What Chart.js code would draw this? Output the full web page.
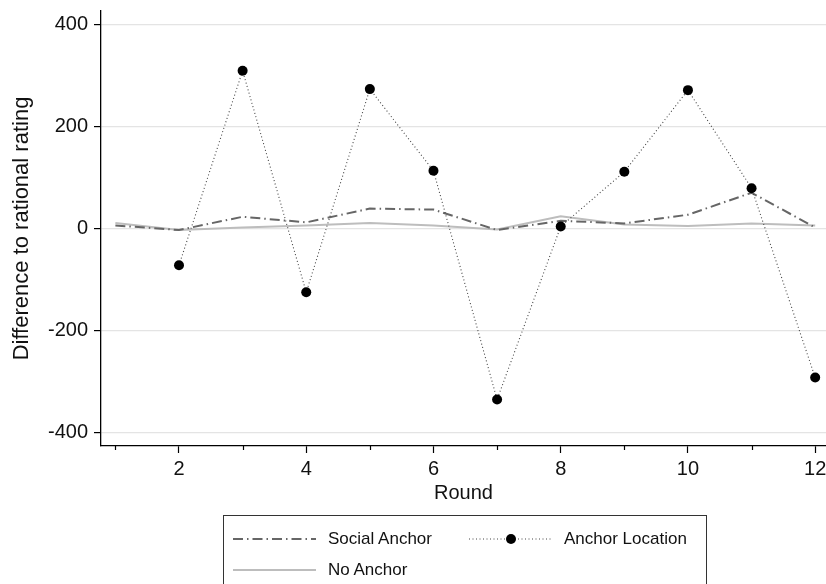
<!DOCTYPE html>
<html>
<head>
<meta charset="utf-8">
<script src="https://cdn.jsdelivr.net/npm/chart.js@4/dist/chart.umd.min.js"></script>
<style>
  html, body { margin: 0; padding: 0; background: #fff; }
  #wrap { position: relative; width: 826px; height: 584px; overflow: hidden; font-family: "Liberation Sans", Arial, Helvetica, sans-serif; }
  #c { position: absolute; left: 0; top: 0; }
  #legend { position: absolute; left: 223px; top: 515px; width: 484px; height: 90px; border: 1px solid #333; box-sizing: border-box; }
  .item { position: absolute; display: flex; align-items: center; font-size: 17px; color: #111; height: 24px; }
  .item svg { display: block; margin-right: 12px; }
</style>
</head>
<body>
<div id="wrap">
  <canvas id="c" width="826" height="584"></canvas>
  <div id="legend">
    <div class="item" style="left:9px; top:11px;">
      <svg width="83" height="10"><line x1="0" y1="5" x2="83" y2="5" stroke="#666" stroke-width="2" stroke-dasharray="10,4,1.5,4"/></svg>
      <span>Social Anchor</span>
    </div>
    <div class="item" style="left:245px; top:11px;">
      <svg width="83" height="12"><line x1="0" y1="6" x2="83" y2="6" stroke="#444" stroke-width="1" stroke-dasharray="1,2.5"/><circle cx="42" cy="6" r="5" fill="#000"/></svg>
      <span>Anchor Location</span>
    </div>
    <div class="item" style="left:9px; top:42px;">
      <svg width="83" height="10"><line x1="0" y1="5" x2="83" y2="5" stroke="#bdbdbd" stroke-width="2"/></svg>
      <span>No Anchor</span>
    </div>
  </div>
</div>
<script>
const rounds = [1, 2, 3, 4, 5, 6, 7, 8, 9, 10, 11, 12];
const socialAnchor = [6, -3, 23, 12, 39, 37, -3, 15, 10, 27, 70, 2];
const anchorLocation = [null, -72, 309, -125, 273, 113, -335, 4, 111, 271, 79, -292];
const noAnchor = [11, -3, 2, 6, 11, 6, -2, 24, 8, 5, 10, 6];
const yTicks = [-400, -200, 0, 200, 400];
const xMajorTicks = [2, 4, 6, 8, 10, 12];
const xMinorTicks = [1, 3, 5, 7, 9, 11];

const pts = (arr) => rounds.map((r, i) => ({ x: r, y: arr[i] })).filter(p => p.y !== null);

const FONT = "'Liberation Sans', Arial, Helvetica, sans-serif";

const minorTickPlugin = {
  id: 'minorTicks',
  afterDraw(chart) {
    const xs = chart.scales.x;
    const ctx = chart.ctx;
    ctx.save();
    ctx.strokeStyle = '#000';
    ctx.lineWidth = 1.2;
    xMinorTicks.forEach(v => {
      const px = Math.round(xs.getPixelForValue(v)) + 0.5;
      ctx.beginPath();
      ctx.moveTo(px, xs.top);
      ctx.lineTo(px, xs.top + 4);
      ctx.stroke();
    });
    ctx.restore();
  }
};

new Chart(document.getElementById('c'), {
  type: 'line',
  data: {
    datasets: [
      {
        label: 'Anchor Location',
        data: pts(anchorLocation),
        borderColor: '#444',
        borderWidth: 1.1,
        borderDash: [1, 2.5],
        pointRadius: 5,
        pointBackgroundColor: '#000',
        pointBorderColor: '#000',
        pointBorderWidth: 0,
        tension: 0,
        clip: false,
        order: 0
      },
      {
        label: 'Social Anchor',
        data: pts(socialAnchor),
        borderColor: '#666',
        borderWidth: 2,
        borderDash: [10, 4, 1.5, 4],
        pointRadius: 0,
        tension: 0,
        order: 1
      },
      {
        label: 'No Anchor',
        data: pts(noAnchor),
        borderColor: '#bdbdbd',
        borderWidth: 2,
        pointRadius: 0,
        tension: 0,
        order: 2
      }
    ]
  },
  options: {
    responsive: false,
    animation: false,
    devicePixelRatio: 1,
    layout: { autoPadding: false, padding: { top: 11, right: 0, bottom: 68, left: 0 } },
    plugins: { legend: { display: false }, tooltip: { enabled: false } },
    scales: {
      x: {
        type: 'linear',
        min: 0.774,
        max: 12.17,
        afterFit(s) { s.height = 70; s.paddingLeft = 0; s.paddingRight = 0; },
        afterBuildTicks(s) { s.ticks = xMajorTicks.map(v => ({ value: v })); },
        ticks: { color: '#111', font: { family: FONT, size: 20 }, padding: 4, maxRotation: 0, autoSkip: false },
        grid: { display: true, drawOnChartArea: false, tickLength: 7, tickColor: '#000', tickWidth: 1.2 },
        border: { display: true, color: '#000', width: 1.3 },
        title: { display: true, text: 'Round', color: '#111', font: { family: FONT, size: 20 }, padding: { top: 0, bottom: 11 } }
      },
      y: {
        min: -426,
        max: 426,
        afterFit(s) { s.width = 101; s.paddingTop = 0; s.paddingBottom = 0; },
        afterBuildTicks(s) { s.ticks = yTicks.map(v => ({ value: v })); },
        ticks: { color: '#111', font: { family: FONT, size: 20 }, padding: 6 },
        grid: { color: '#e4e4e4', lineWidth: 1.2, tickLength: 7, tickColor: '#000', tickWidth: 1.2 },
        border: { display: true, color: '#000', width: 1.3 },
        title: { display: true, text: 'Difference to rational rating', color: '#111', font: { family: FONT, size: 22 }, padding: { top: 9, bottom: 0 } }
      }
    }
  },
  plugins: [minorTickPlugin]
});
</script>
</body>
</html>
